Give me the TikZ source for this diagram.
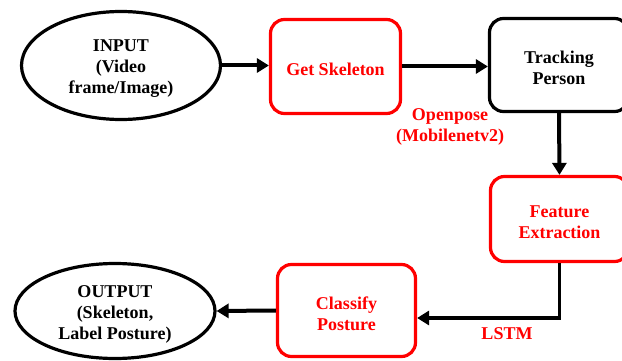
\documentclass[tikz,border=0pt]{standalone}
\usepackage{fontspec}
\setmainfont{Liberation Serif}
\usetikzlibrary{shapes.geometric,arrows.meta}
\definecolor{flowred}{RGB}{255,0,0}
\begin{document}
\begin{tikzpicture}[x=1pt,y=-1pt,
  every node/.style={font=\fontsize{18}{21}\selectfont\bfseries, align=center, inner sep=0pt},
  every label/.style={yshift=-3pt},
  label distance=0pt,
  termnode/.style={ellipse, draw=black, line width=3.2pt},
  stepbox/.style={rectangle, rounded corners=14pt, line width=3.2pt},
  redbox/.style={stepbox, draw=flowred},
  blackbox/.style={stepbox, draw=black},
  flow/.style={line width=4pt, -{Triangle[length=12pt,width=14pt]}},
  redtext/.style={text=flowred}]
  \useasboundingbox (0,0) rectangle (622,361);
  \clip (0,0) rectangle (622,361);

  % terminal nodes
  \node[termnode, minimum width=199pt, minimum height=108pt,
        label={center:INPUT\\(Video\\frame/Image)}] (in) at (121,65.5) {};
  \node[termnode, minimum width=200pt, minimum height=95pt,
        label={center:OUTPUT\\(Skeleton,\\Label Posture)}] (out) at (115,311) {};

  % processing steps
  \node[redbox, minimum width=130pt, minimum height=94pt,
        label={[redtext]center:Get Skeleton}] (skel) at (335.5,66.5) {};
  \node[blackbox, minimum width=139pt, minimum height=93pt,
        label={center:Tracking\\Person}] (track) at (559,65) {};
  \node[redbox, minimum width=138pt, minimum height=85pt,
        label={[redtext]center:Feature\\Extraction}] (feat) at (559.5,219) {};
  \node[redbox, minimum width=138pt, minimum height=92pt,
        label={[redtext]center:Classify\\Posture}] (cls) at (346.5,310.5) {};

  % method labels
  \node[redtext] (op) at (450,127) {Openpose\\(Mobilenetv2)};
  \node[redtext] (lstm) at (507,334) {LSTM};

  % connectors
  \draw[flow] (in.east) -- (in.east -| skel.west);
  \draw[flow] (skel.east) -- (skel.east -| track.west);
  \draw[flow] (track.south) -- (feat.north);
  \coordinate (bend) at (559.5,318);
  \draw[flow, line width=3.5pt] (feat.south) -- (bend) -- (bend -| cls.east);
  \draw[flow] (cls.west) -- (out.east);
\end{tikzpicture}
\end{document}
